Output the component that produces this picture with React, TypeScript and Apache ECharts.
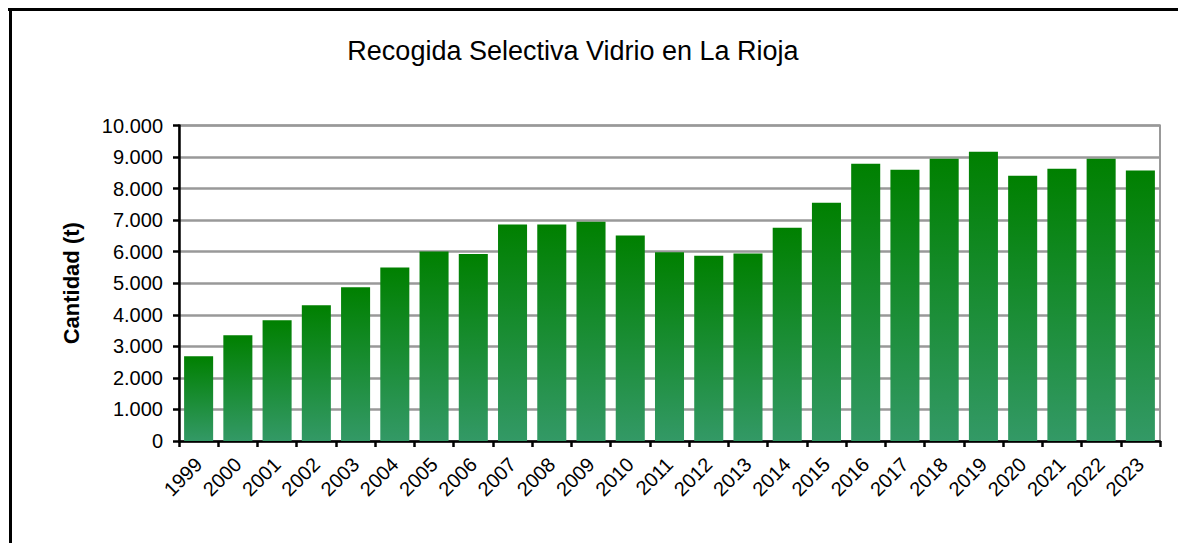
import React, { useEffect, useRef } from "react";
import * as echarts from "echarts";

const years = [
  "1999", "2000", "2001", "2002", "2003", "2004", "2005", "2006", "2007",
  "2008", "2009", "2010", "2011", "2012", "2013", "2014", "2015", "2016",
  "2017", "2018", "2019", "2020", "2021", "2022", "2023",
];
const tonnes = [
  2690, 3350, 3830, 4300, 4870, 5500, 6010, 5930, 6860, 6860, 6950, 6510,
  5980, 5870, 5940, 6760, 7555, 8790, 8600, 8950, 9170, 8410, 8630, 8950, 8570,
];
const titleText = "Recogida Selectiva Vidrio en La Rioja";
const yName = "Cantidad (t)";

const FONT = "'Liberation Sans', Arial, Helvetica, sans-serif";

function fmt(v: number): string {
  return String(v).replace(/\B(?=(\d{3})+(?!\d))/g, ".");
}

export default function App() {
  const ref = useRef<HTMLDivElement>(null);
  useEffect(() => {
    if (!ref.current) return;
    const chart = echarts.init(ref.current, null, { renderer: "svg" });
    chart.setOption({
      animation: false,
      backgroundColor: "#ffffff",
      title: {
        text: titleText,
        left: 560,
        textAlign: "center",
        top: 24,
        textStyle: { fontFamily: FONT, fontSize: 27, fontWeight: "normal", color: "#000" },
      },
      graphic: [
        { type: "line", shape: { x1: 0, y1: 1.5, x2: 1178, y2: 1.5 }, style: { stroke: "#000", lineWidth: 3 } },
        { type: "line", shape: { x1: 2.5, y1: 0, x2: 2.5, y2: 535 }, style: { stroke: "#000", lineWidth: 3 } },
      ],
      grid: {
        left: 171,
        right: 26,
        top: 117.5,
        bottom: 102,
        show: true,
        borderColor: "#999999",
        borderWidth: 2,
        backgroundColor: "transparent",
      },
      xAxis: {
        type: "category",
        data: years,
        axisLine: { lineStyle: { color: "#000", width: 2.5 } },
        axisTick: { show: true, length: 6, lineStyle: { color: "#000", width: 2.5 } },
        axisLabel: {
          rotate: 45,
          margin: 20,
          interval: 0,
          color: "#000",
          fontFamily: FONT,
          fontSize: 20,
        },
        splitLine: { show: false },
      },
      yAxis: {
        type: "value",
        min: 0,
        max: 10000,
        interval: 1000,
        name: yName,
        nameLocation: "middle",
        nameGap: 97,
        nameTextStyle: { fontFamily: FONT, fontSize: 22, fontWeight: "bold", color: "#000" },
        axisLine: { show: true, lineStyle: { color: "#000", width: 2.5 } },
        axisTick: { show: true, length: 6, lineStyle: { color: "#000", width: 2.5 } },
        axisLabel: {
          margin: 16,
          color: "#000",
          fontFamily: FONT,
          fontSize: 20,
          formatter: (v: number) => fmt(v),
        },
        splitLine: { show: true, lineStyle: { color: "#999999", width: 2.5 } },
      },
      series: [
        {
          type: "bar",
          data: tonnes,
          barCategoryGap: "26%",
          itemStyle: {
            color: new echarts.graphic.LinearGradient(0, 0, 0, 1, [
              { offset: 0, color: "#008000" },
              { offset: 1, color: "#339966" },
            ]),
          },
        },
      ],
    });
    return () => chart.dispose();
  }, []);
  return <div ref={ref} style={{ width: 1178, height: 535 }} />;
}
